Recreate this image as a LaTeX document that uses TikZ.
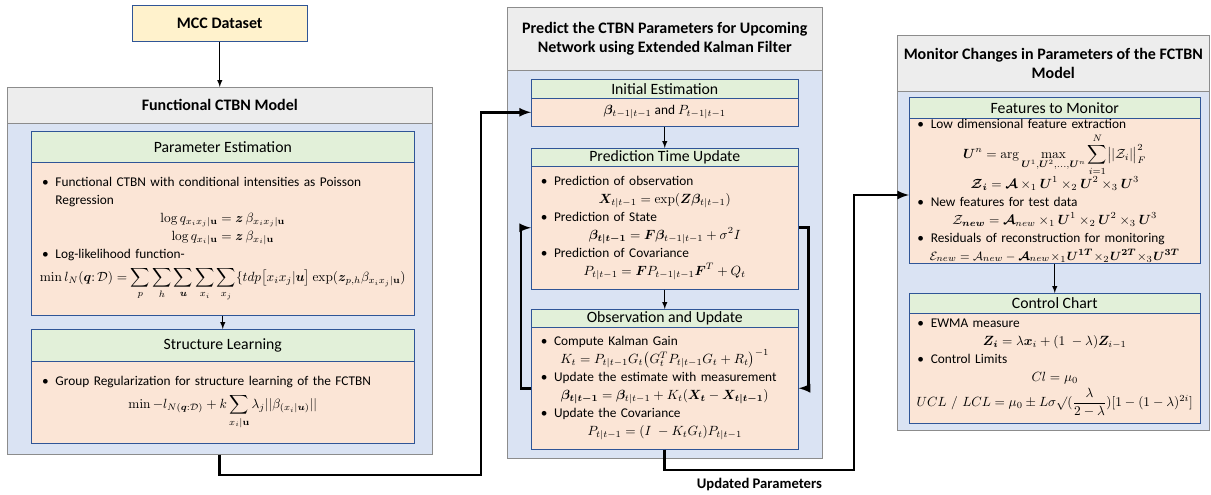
\documentclass[tikz,border=0pt]{standalone}
\usepackage[no-math]{fontspec}
\setmainfont{Carlito}
\usepackage{amsmath}
\usepackage{amssymb}
\usepackage{bm}
\usetikzlibrary{arrows}
\usepackage{xcolor}

\definecolor{panelgray}{HTML}{EDEDED}
\definecolor{panelblue}{HTML}{DAE3F3}
\definecolor{panelline}{HTML}{8C8C8C}
\definecolor{headgreen}{HTML}{E2F0D9}
\definecolor{bodypeach}{HTML}{FBE5D6}
\definecolor{datayellow}{HTML}{FFF2CC}
\definecolor{boxline}{HTML}{2F5597}

\newcommand{\bul}[1]{\makebox[\linewidth][l]{\makebox[10pt][l]{\textbullet}#1}}
\newcommand{\cont}[1]{\makebox[\linewidth][l]{\hspace*{10pt}#1}}
\newcommand{\eqln}[1]{\makebox[\linewidth][c]{$\displaystyle #1$}}

\begin{document}
\begin{tikzpicture}[x=0.75pt, y=-0.75pt,
        wh/.style 2 args={anchor=north west, minimum width=#1*0.75pt, minimum height=#2*0.75pt},
        panelhead/.style={draw=panelline, fill=panelgray, inner sep=0pt, align=center, font=\bfseries\fontsize{12}{14.5}\selectfont},
        panelbody/.style={draw=panelline, fill=panelblue, inner sep=0pt},
        boxhead/.style={draw=boxline, fill=headgreen, inner sep=0pt, font=\fontsize{11.8}{13}\selectfont},
        boxbody/.style={draw=boxline, fill=bodypeach, inner sep=0pt, align=left, font=\fontsize{10}{13.5}\selectfont},
        conn/.style={line width=2pt, -latex},
        link/.style={line width=0.8pt, -latex}]
        \useasboundingbox (0,0) rectangle (1211,495);

        % data set
        \node[draw=boxline, fill=datayellow, inner sep=0pt, font=\bfseries\fontsize{12}{14}\selectfont, wh={175}{36}] (mcc) at (132,5) {MCC Dataset};

        % left panel
        \node[panelbody, wh={425}{331}] (fctBody) at (7,123) {};
        \node[panelhead, wh={425}{36}] (fctHead) at (7,87) {Functional CTBN Model};

        \node[boxhead, wh={383}{31}] (parHead) at (31,131) {Parameter Estimation};
        \node[boxbody, text width=271pt, wh={383}{153}] (parBody) at (31,162) {%
            \bul{Functional CTBN with conditional intensities as Poisson}\\
            \cont{Regression}\\
            \eqln{\log q_{x_ix_j|\mathbf{u}} = \bm{z}\,\beta_{x_ix_j|\mathbf{u}}}\\
            \eqln{\log q_{x_i|\mathbf{u}} = \bm{z}\,\beta_{x_i|\mathbf{u}}}\\
            \bul{Log-likelihood function-}\\[4pt]
            \eqln{\min l_N(\bm{q}{:}\,\mathcal{D}) = \sum_p\sum_h\sum_{\bm{u}}\sum_{x_i}\sum_{x_j}\{tdp\bigl[x_ix_j|\bm{u}\bigr]\exp(\bm{z}_{p,h}\beta_{x_ix_j|\mathbf{u}})}};

        \node[boxhead, wh={383}{32}] (strHead) at (31,329) {Structure Learning};
        \node[boxbody, text width=271pt, wh={383}{82}] (strBody) at (31,361) {%
            \bul{Group Regularization for structure learning of the FCTBN}\\[4pt]
            \eqln{\min -l_{N(\bm{q}:\mathcal{D})} + k\sum_{x_i|\mathbf{u}}\lambda_j||\beta_{(x_i|\bm{u})}||}};

        % middle panel
        \node[panelbody, wh={315}{388}] (ekfBody) at (507,70) {};
        \node[panelhead, wh={315}{63}] (ekfHead) at (507,7) {Predict the CTBN Parameters for Upcoming\\Network using Extended Kalman Filter};

        \node[boxhead, wh={267}{19}] (iniHead) at (531,79) {Initial Estimation};
        \node[boxbody, align=center, wh={267}{28}] (iniBody) at (531,98) {$\bm{\beta}_{t-1|t-1}$ and $P_{t-1|t-1}$};

        \node[boxhead, wh={267}{18}] (preHead) at (531,148) {Prediction Time Update};
        \node[boxbody, text width=186pt, wh={267}{123}] (preBody) at (531,166) {%
            \bul{Prediction of observation}\\
            \eqln{\bm{X}_{t|t-1} = \exp(\bm{Z}\bm{\beta}_{t|t-1})}\\
            \bul{Prediction of State}\\
            \eqln{\bm{\beta}_{\bm{t|t-1}} = \bm{F}\bm{\beta}_{t-1|t-1} + \sigma^2 I}\\
            \bul{Prediction of Covariance}\\
            \eqln{P_{t|t-1} = \bm{F}P_{t-1|t-1}\bm{F}^T + Q_t}};

        \node[boxhead, wh={267}{18}] (obsHead) at (531,309) {Observation and Update};
        \node[boxbody, text width=186pt, wh={267}{122}] (obsBody) at (531,327) {%
            \bul{Compute Kalman Gain}\\
            \eqln{K_t = P_{t|t-1}G_t\bigl(G_t^TP_{t|t-1}G_t + R_t\bigr)^{-1}}\\
            \bul{Update the estimate with measurement}\\
            \eqln{\bm{\beta}_{\bm{t|t-1}} = \bm{\beta}_{t|t-1} + K_t(\bm{X_t} - \bm{X}_{\bm{t|t-1}})}\\
            \bul{Update the Covariance}\\
            \eqln{P_{t|t-1} = (I\; - K_tG_t)P_{t|t-1}}};

        % right panel
        \node[panelbody, wh={312}{339}] (monBody) at (897,91) {};
        \node[panelhead, wh={312}{56}] (monHead) at (897,35) {Monitor Changes in Parameters of the FCTBN\\Model};

        \node[boxhead, wh={291}{21}] (feaHead) at (909,97) {Features to Monitor};
        \node[boxbody, text width=206pt, wh={291}{145}] (feaBody) at (909,118) {%
            \bul{Low dimensional feature extraction}\\[3pt]
            \eqln{\bm{U}^n = \arg\max_{\bm{U}^1,\bm{U}^2,\dots,\bm{U}^n}\sum_{i=1}^{N}\bigl|\lvert\mathcal{Z}_i\rvert\bigr|_F^2}\\
            \eqln{\bm{\mathcal{Z}}_{\bm{i}} = \bm{\mathcal{A}}\times_1\bm{U}^1\times_2\bm{U}^2\times_3\bm{U}^3}\\
            \bul{New features for test data}\\
            \eqln{\mathcal{Z}_{\bm{new}} = \bm{\mathcal{A}}_{new}\times_1\bm{U}^1\times_2\bm{U}^2\times_3\bm{U}^3}\\
            \bul{Residuals of reconstruction for monitoring}\\
            \makebox[\linewidth][c]{\fontsize{9.5}{11}\selectfont$\mathcal{E}_{new} = \mathcal{A}_{new} - \bm{\mathcal{A}}_{new}\!\times_1\!\bm{U}^{\bm{1T}}\!\times_2\!\bm{U}^{\bm{2T}}\!\times_3\!\bm{U}^{\bm{3T}}$}};

        \node[boxhead, wh={291}{20}] (ccHead) at (909,293) {Control Chart};
        \node[boxbody, text width=206pt, wh={291}{110}] (ccBody) at (909,313) {%
            \bul{EWMA measure}\\
            \eqln{\bm{Z}_{\bm{i}} = \lambda\bm{x}_i + (1\; - \lambda)\bm{Z}_{i-1}}\\
            \bul{Control Limits}\\
            \eqln{Cl = \mu_0}\\[2pt]
            \eqln{UCL\ /\ LCL = \mu_0 \pm L\sigma\surd(\frac{\lambda}{2-\lambda})[1-(1-\lambda)^{2i}]}};

        % short arrows
        \draw[link] (mcc.south) -- (fctHead.north);
        \draw[link] (parBody.south) -- (strHead.north);
        \draw[link] (iniBody.south) -- (preHead.north);
        \draw[link] (preBody.south) -- (obsHead.north);
        \draw[link] (feaBody.south) -- (ccHead.north);

        % kalman loop
        \draw[conn] (obsBody.west) -- ++(-10,0) |- (preBody.west);
        \draw[conn] (preBody.east) -- ++(10,0) |- (obsBody.east);

        % long connectors
        \coordinate (A) at (481,475);
        \coordinate (B) at (854,470);
        \coordinate (C) at (854,195);
        \draw[conn] (fctBody.south) |- (A) |- (iniBody.west);
        \draw[conn] (obsBody.south) |- node[pos=0.75, below=2pt, font=\bfseries\fontsize{11}{13}\selectfont] {Updated Parameters} (B) -- (C) -- (feaBody.west |- C);
    \end{tikzpicture}
\end{document}
